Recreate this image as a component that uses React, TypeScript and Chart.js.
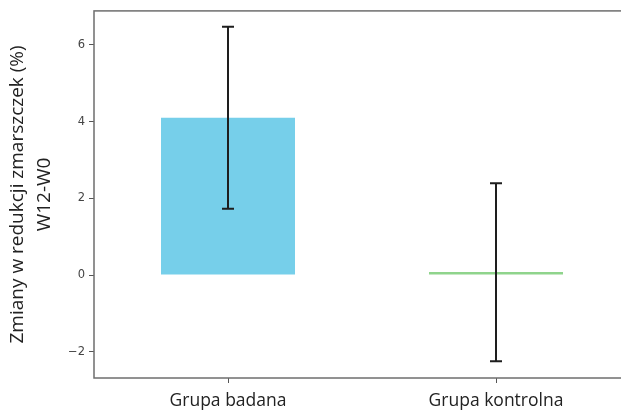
import React, { useEffect, useRef } from "react";
import { Chart, registerables } from "chart.js";

Chart.register(...registerables);

const categories = ["Grupa badana", "Grupa kontrolna"];
const means = [4.1, 0.08];
const errLow = [1.73, -2.25];
const errHigh = [6.47, 2.39];
const barColors = ["#76cfea", "#8fd48c"];
const yTickValues = [-2, 0, 2, 4, 6];
const yTitle = ["Zmiany w redukcji zmarszczek (%)", "W12-W0"];

const frameAndErrors = {
  id: "frameAndErrors",
  afterDatasetsDraw(chart: any) {
    const { ctx, chartArea, scales } = chart;
    const x = scales.x;
    const y = scales.y;
    ctx.save();
    ctx.strokeStyle = "#1e1e1e";
    ctx.lineWidth = 2;
    means.forEach((_, i) => {
      const px = x.getPixelForValue(i);
      const top = y.getPixelForValue(errHigh[i]);
      const bot = y.getPixelForValue(errLow[i]);
      ctx.beginPath();
      ctx.moveTo(px, top);
      ctx.lineTo(px, bot);
      ctx.moveTo(px - 6, top);
      ctx.lineTo(px + 6, top);
      ctx.moveTo(px - 6, bot);
      ctx.lineTo(px + 6, bot);
      ctx.stroke();
    });
    ctx.strokeStyle = "#6e6e6e";
    ctx.lineWidth = 1.5;
    ctx.strokeRect(chartArea.left, chartArea.top, chartArea.right - chartArea.left, chartArea.bottom - chartArea.top);
    ctx.restore();
  },
};

export default function App() {
  const ref = useRef<HTMLCanvasElement>(null);
  useEffect(() => {
    if (!ref.current) return;
    const chart = new Chart(ref.current, {
      type: "bar",
      data: {
        datasets: [
          {
            data: means.map((v, i) => ({ x: i, y: v })),
            backgroundColor: barColors,
            borderWidth: 0,
            barPercentage: 0.5,
            categoryPercentage: 1,
            grouped: false,
          },
        ],
      },
      options: {
        responsive: false,
        animation: false,
        layout: { padding: { top: 10, right: 10, left: 0, bottom: 0 } },
        plugins: { legend: { display: false }, tooltip: { enabled: false } },
        scales: {
          x: {
            type: "linear",
            offset: false,
            min: -0.5,
            max: 1.5,
            afterBuildTicks: (s: any) => {
              s.ticks = categories.map((_, i) => ({ value: i }));
            },
            afterFit: (s: any) => {
              s.height = 32;
            },
            grid: { offset: false, drawOnChartArea: false, drawTicks: true, tickLength: 5, color: "#555" },
            border: { display: false },
            ticks: {
              callback: (v: any) => categories[v as number] ?? "",
              font: { family: "Open Sans", size: 17.5 },
              color: "#222",
              padding: 8,
              maxRotation: 0,
              autoSkip: false,
            },
          },
          y: {
            min: -2.685,
            max: 6.885,
            afterBuildTicks: (s: any) => {
              s.ticks = yTickValues.map((v) => ({ value: v }));
            },
            afterFit: (s: any) => {
              s.width = 94;
            },
            grid: { drawOnChartArea: false, drawTicks: true, tickLength: 5, color: "#555" },
            border: { display: false },
            ticks: {
              callback: (v: any) => (v < 0 ? "\u2212" + Math.abs(v) : String(v)),
              font: { family: "DejaVu Sans", size: 11.5 },
              color: "#444",
              padding: 4,
            },
            title: {
              display: true,
              text: yTitle,
              font: { family: "Open Sans", size: 19, lineHeight: 1.42 },
              color: "#222",
              padding: { top: 4, bottom: 0 },
            },
          },
        },
      },
      plugins: [frameAndErrors],
    });
    return () => chart.destroy();
  }, []);
  return (
    <div style={{ position: "fixed", left: 0, top: 0, width: 621, height: 410, overflow: "hidden", background: "#fff" }}>
      <canvas ref={ref} width={640} height={410} style={{ width: 640, height: 410 }} />
    </div>
  );
}
